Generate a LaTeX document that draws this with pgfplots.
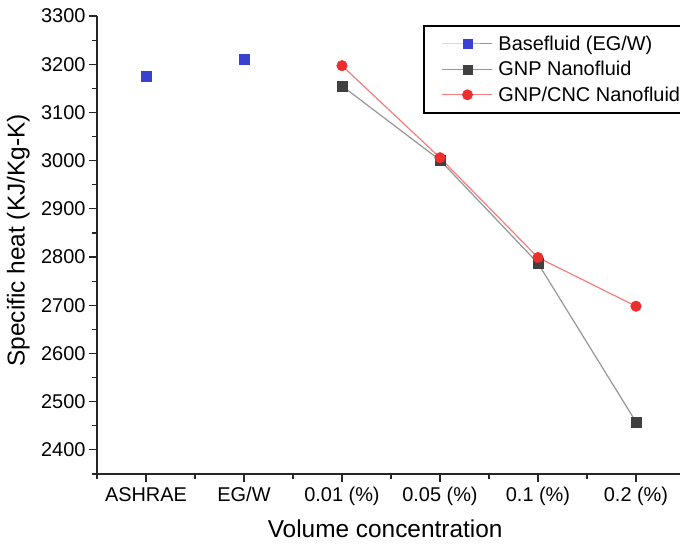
\documentclass[border=0pt]{standalone}
\usepackage{fontspec}
\setmainfont{Liberation Sans}
\usepackage{pgfplots}
\pgfplotsset{compat=1.18}
\definecolor{myblue}{RGB}{58,64,208}
\definecolor{mydark}{RGB}{64,64,64}
\definecolor{myline}{RGB}{150,150,150}
\definecolor{myred}{RGB}{238,45,45}
\definecolor{myredline}{RGB}{245,125,125}
\begin{document}
\begin{tikzpicture}
\useasboundingbox (-97bp,-72bp) rectangle (583bp,474bp);
\begin{axis}[
  at={(0,0)}, anchor=south west,
  scale only axis, width=588bp, height=458bp,
  xmin=-0.5, xmax=5.5, ymin=2350, ymax=3300,
  axis lines=left,
  axis line style={-, line width=1.3bp, black!85},
  tick align=outside,
  major tick length=8bp, minor tick length=5bp,
  every tick/.style={line width=1.2bp, black!85},
  xtick={0,1,2,3,4,5},
  xticklabels={ASHRAE, EG/W, 0.01 (\%), 0.05 (\%), 0.1 (\%), 0.2 (\%)},
  minor xtick={-0.5,0.5,1.5,2.5,3.5,4.5},
  ytick={2400,2500,...,3300},
  minor ytick={2350,2450,...,3250},
  /pgf/number format/1000 sep={},
  /pgf/number format/assume math mode=true,
  ticklabel style={font=\fontsize{20}{24}\selectfont},
  xticklabel style={yshift=-2bp},
  xlabel={Volume concentration},
  ylabel={Specific heat (KJ/Kg-K)},
  label style={font=\fontsize{24.5}{28}\selectfont},
  xlabel style={at={(axis description cs:0.49,-0.1397)}, anchor=base},
  ylabel style={at={(axis description cs:-0.134,0.51)}, anchor=center},
  legend style={at={(axis description cs:0.5544,0.9803)}, anchor=north west,
    draw=black, line width=2bp, font=\fontsize{20}{22}\selectfont,
    inner xsep=18bp, inner ysep=8bp, row sep=5.5bp, cells={anchor=west},
    nodes={inner xsep=5.5bp}},
  legend image code/.code={\draw[mark repeat=2,mark phase=2,#1] plot coordinates {(0bp,0bp) (25bp,0bp) (50bp,0bp)};},
]
\addlegendimage{myline, line width=1bp, mark=square*, mark size=4.6bp, mark options={fill=myblue, draw=myblue, line width=0.4bp}}
\addlegendentry{Basefluid (EG/W)}
\addlegendimage{myline, line width=1bp, mark=square*, mark size=4.6bp, mark options={fill=mydark, draw=mydark, line width=0.4bp}}
\addlegendentry{GNP Nanofluid}
\addlegendimage{myredline, line width=1bp, mark=*, mark size=5.2bp, mark options={fill=myred, draw=myred, line width=0.4bp}}
\addlegendentry{GNP/CNC Nanofluid}

\addplot[forget plot, only marks, mark=square*, mark size=4.8bp, mark options={fill=myblue, draw=myblue, line width=0.4bp}]
  coordinates {(0,3175) (1,3210)};
\addplot[forget plot, myline, line width=1.2bp, mark=square*, mark size=4.8bp, mark options={fill=mydark, draw=mydark, line width=0.4bp}]
  coordinates {(2,3155) (3,3001) (4,2787) (5,2458)};
\addplot[forget plot, myredline, line width=1.2bp, mark=*, mark size=5.3bp, mark options={fill=myred, draw=myred, line width=0.4bp}]
  coordinates {(2,3197) (3,3006) (4,2799) (5,2698)};
\end{axis}
\end{tikzpicture}
\end{document}
